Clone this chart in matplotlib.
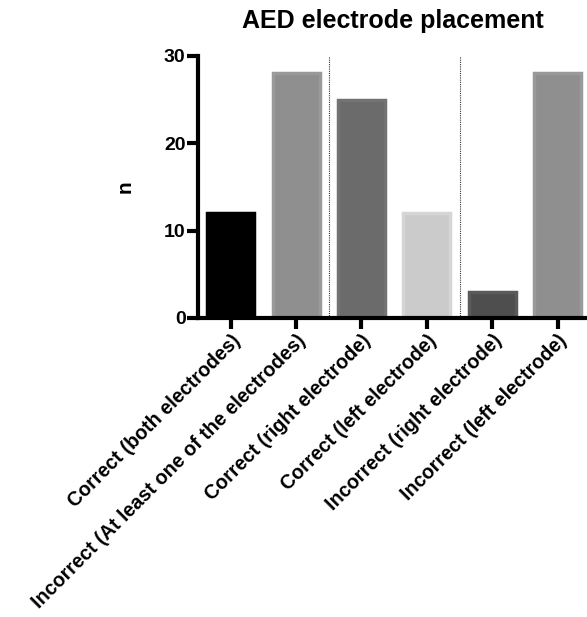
import numpy as np
import matplotlib
matplotlib.use("Agg")
import matplotlib.pyplot as plt

# data
categories = [
    "Correct (both electrodes)",
    "Incorrect (At least one of the electrodes)",
    "Correct (right electrode)",
    "Correct (left electrode)",
    "Incorrect (right electrode)",
    "Incorrect (left electrode)",
]
counts = [12, 28, 25, 12, 3, 28]
y_ticks = [0, 10, 20, 30]
separators = [1.5, 3.5]

fill_colors = ["#000000", "#8f8f8f", "#6b6b6b", "#cbcbcb", "#4e4e4e", "#8f8f8f"]
edge_colors = ["#000000", "#9a9a9a", "#737373", "#d5d5d5", "#5a5a5a", "#9a9a9a"]

plt.rcParams["font.family"] = ["Liberation Sans", "DejaVu Sans"]
plt.rcParams["font.weight"] = "bold"

W, H, DPI = 587, 617, 100
fig = plt.figure(figsize=(W / DPI, H / DPI), dpi=DPI)
ax = fig.add_axes([198 / W, 1 - 318 / H, (W - 198) / W, (318 - 56) / H])

x = np.arange(len(categories))
ax.bar(x, counts, width=0.72, color=fill_colors, edgecolor=edge_colors,
       linewidth=2.5, zorder=2)

for s in separators:
    ax.axvline(s, color="#333333", linestyle=(0, (1, 1)), linewidth=0.8, zorder=1)

ax.set_xlim(-0.5, 5.45)
ax.set_ylim(0, 30)
ax.set_yticks(y_ticks)
ax.set_xticks(x)
ax.set_xticklabels(categories, rotation=45, ha="right", rotation_mode="anchor",
                   fontsize=14.2, fontweight="bold")
ax.tick_params(axis="y", labelsize=14, width=3, length=8, pad=1)
ax.tick_params(axis="x", width=3, length=8, pad=1.5)
for lbl in ax.get_yticklabels():
    lbl.set_fontweight("bold")

for side in ["top", "right"]:
    ax.spines[side].set_visible(False)
for side in ["left", "bottom"]:
    ax.spines[side].set_linewidth(3)

ax.set_ylabel("n", fontsize=15, fontweight="bold")
ax.yaxis.set_label_coords(-0.162, 0.5)
ax.set_title("AED electrode placement", fontsize=18, fontweight="bold", pad=20)

fig.savefig("out.png", dpi=DPI)
